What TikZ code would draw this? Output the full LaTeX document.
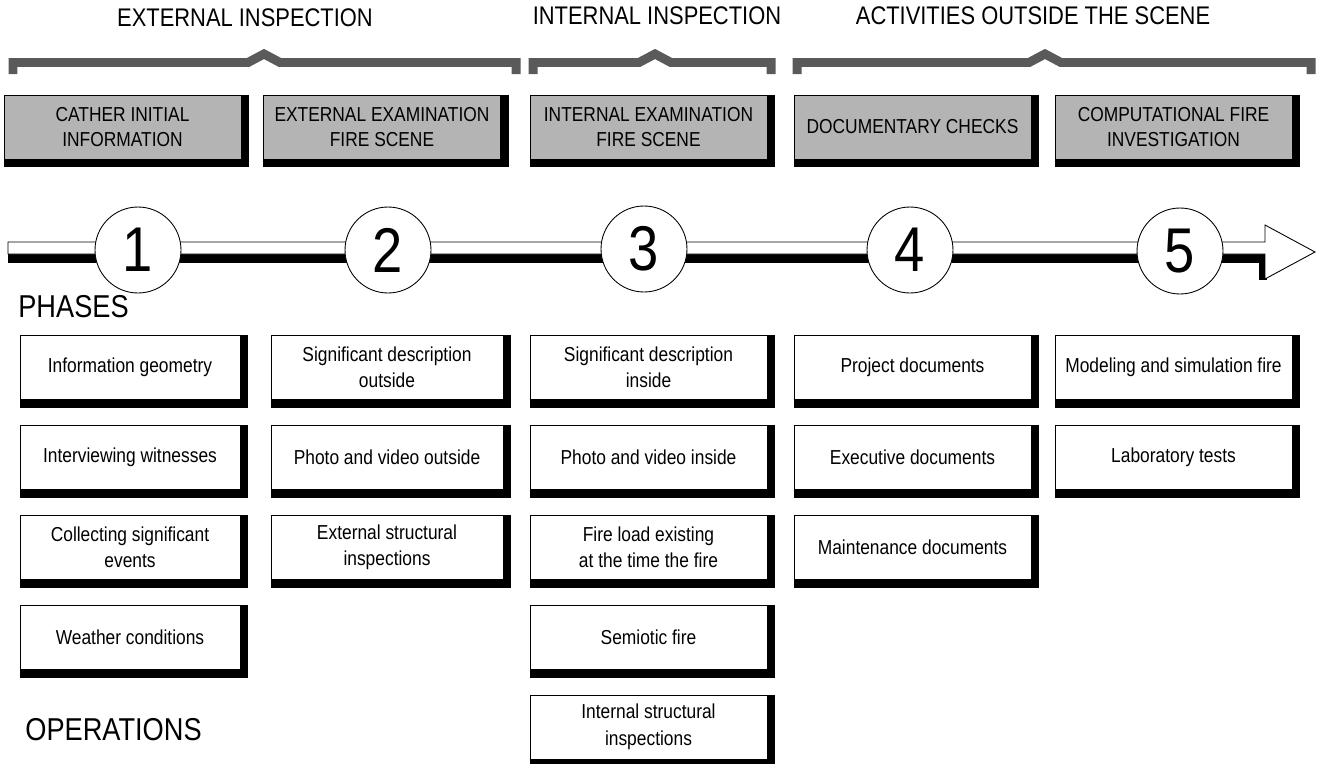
\documentclass[tikz,border=0pt]{standalone}
\usepackage{fontspec}
\setmainfont{Liberation Sans}[FakeStretch=0.86]
\usepackage{tikz}
\usetikzlibrary{positioning}
\definecolor{cHead}{RGB}{180,180,180}
\definecolor{cBrace}{RGB}{90,90,90}
\tikzset{
	grouptitle/.style={inner sep=0pt, font=\fontsize{14.5pt}{17pt}\selectfont},
	sidetxt/.style   ={anchor=west, inner sep=0pt, font=\fontsize{18pt}{20pt}\selectfont},
	headbox/.style   ={rectangle, draw=black, line width=0.5pt, fill=cHead, minimum width=4.74cm, minimum height=1.28cm, inner sep=0pt, align=center, font=\fontsize{11.5pt}{14pt}\selectfont},
	opbox/.style     ={rectangle, draw=black, line width=0.5pt, fill=white, minimum width=4.74cm, minimum height=1.28cm, inner sep=0pt, align=center, font=\fontsize{11.5pt}{15pt}\selectfont},
	phasenum/.style  ={circle, draw=black, line width=0.5pt, fill=white, minimum size=1.72cm, inner sep=0pt, font=\fontsize{36pt}{40pt}\selectfont},
	groupbrace/.style={draw=cBrace, line width=0.18cm, line join=miter},
	boxshadow/.style ={draw=black, line width=0.16cm, line join=miter},
}
\begin{document}
\begin{tikzpicture}[x=0.02cm, y=-0.02cm, node distance=0.5cm]
	\useasboundingbox (0,0) rectangle (1322,764);
	% groups
	\node[grouptitle] (ext) at (245,18) {EXTERNAL INSPECTION};
	\node[grouptitle] (int) at (657,16) {INTERNAL INSPECTION};
	\node[grouptitle] (out) at (1033,16) {ACTIVITIES OUTSIDE THE SCENE};
	\draw[groupbrace] (13,74) -- (13,62.5) -- (248,62.5) -- (264,54) -- (280,62.5) -- (516,62.5) -- (516,74);
	\draw[groupbrace] (533,74) -- (533,62.5) -- (639,62.5) -- (655,54) -- (671,62.5) -- (771,62.5) -- (771,74);
	\draw[groupbrace] (797,74) -- (797,62.5) -- (1029,62.5) -- (1045,54) -- (1061,62.5) -- (1311,62.5) -- (1311,74);
	% headers
	\node[headbox] (gather) at (122.5,127) {CATHER INITIAL\\INFORMATION};
	\node[headbox] (extexam) at (382,127) {EXTERNAL EXAMINATION\\FIRE SCENE};
	\node[headbox] (intexam) at (648.5,127) {INTERNAL EXAMINATION\\FIRE SCENE};
	\node[headbox] (docs) at (912.5,127) {DOCUMENTARY CHECKS};
	\node[headbox] (comp) at (1173.5,127) {COMPUTATIONAL FIRE\\INVESTIGATION};
	% timeline
	\fill (8,254) rectangle (1267,263);
	\fill (1259,254) rectangle (1267,280);
	\draw[fill=white, line width=0.5pt] (8,242) -- (1265,242) -- (1265,225) -- (1315,252) -- (1265,279) -- (1265,254) -- (8,254) -- cycle;
	\node[phasenum] (p1) at (138,250) {1};
	\node[phasenum] (p2) at (388,250) {2};
	\node[phasenum] (p3) at (644,249) {3};
	\node[phasenum] (p4) at (910,250) {4};
	\node[phasenum] (p5) at (1180,251) {5};
	\node[sidetxt] (phases) at (18,307) {PHASES};
	\node[sidetxt] (opers) at (25,730) {OPERATIONS};
	% operations, phase 1
	\node[opbox, minimum width=4.4cm] (geo) at (130,367.5) {Information geometry};
	\node[opbox, minimum width=4.4cm, below=of geo] (witn) {Interviewing witnesses};
	\node[opbox, minimum width=4.4cm, below=of witn] (events) {Collecting significant\\events};
	\node[opbox, minimum width=4.4cm, below=of events] (weather) {Weather conditions};
	% phase 2
	\node[opbox, minimum width=4.64cm] (descout) at (387,367.5) {Significant description\\outside};
	\node[opbox, minimum width=4.64cm, below=of descout] (photoout) {Photo and video outside};
	\node[opbox, minimum width=4.64cm, below=of photoout] (structout) {External structural\\inspections};
	% phase 3
	\node[opbox] (descin) at (648.5,367.5) {Significant description\\inside};
	\node[opbox, below=of descin] (photoin) {Photo and video inside};
	\node[opbox, below=of photoin] (load) {Fire load existing\\at the time the fire};
	\node[opbox, below=of load] (semiotic) {Semiotic fire};
	\node[opbox, below=of semiotic] (structin) {Internal structural\\inspections};
	% phase 4
	\node[opbox] (project) at (912.5,367.5) {Project documents};
	\node[opbox, below=of project] (exec) {Executive documents};
	\node[opbox, below=of exec] (maint) {Maintenance documents};
	% phase 5
	\node[opbox] (model) at (1173.5,367.5) {Modeling and simulation fire};
	\node[opbox, below=of model] (lab) {Laboratory tests};
	% box shadows
	\foreach \b in {gather,extexam,intexam,docs,comp,geo,witn,events,weather,descout,photoout,structout,descin,photoin,load,semiotic,structin,project,exec,maint,model,lab}
		\draw[boxshadow] ([xshift=0.08cm]\b.north east) -- ([xshift=0.08cm,yshift=-0.08cm]\b.south east) -- ([yshift=-0.08cm]\b.south west);
\end{tikzpicture}
\end{document}
